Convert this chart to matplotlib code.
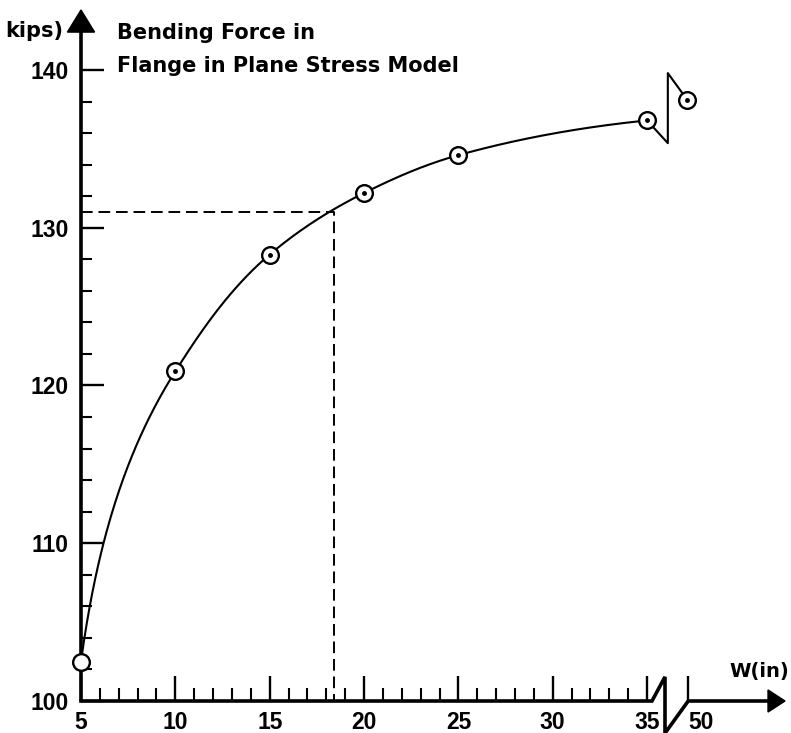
""" Bending force in flange, plane stress model """
import numpy as np
import matplotlib
matplotlib.use("Agg")
from matplotlib import pyplot as plt


# points
w_main = [5, 10, 15, 20, 25, 35]
force_main = [102.5, 120.9, 128.3, 132.2, 134.6, 136.8]
w_far = 50
force_far = 138.1

# the dashed read-off
w_read = 18.4
force_read = 131.0

x_major = [5, 10, 15, 20, 25, 30, 35]
x_tick_labels = ["5", "10", "15", "20", "25", "30", "35", "50"]
y_major = [100, 110, 120, 130, 140]

# 50 is drawn just past the axis break
pos_far = 37.18


# monotone cubic through the points, so the curve looks hand drawn smooth
def pchip(x, y, xs):
	x = np.asarray(x, float)
	y = np.asarray(y, float)
	h = np.diff(x)
	d = np.diff(y) / h
	m = np.zeros_like(y)
	for k in range(1, len(x) - 1):
		if d[k - 1] * d[k] <= 0:
			m[k] = 0
		else:
			w1 = 2 * h[k] + h[k - 1]
			w2 = h[k] + 2 * h[k - 1]
			m[k] = (w1 + w2) / (w1 / d[k - 1] + w2 / d[k])
	m[0] = ((2 * h[0] + h[1]) * d[0] - h[0] * d[1]) / (h[0] + h[1])
	m[-1] = ((2 * h[-1] + h[-2]) * d[-1] - h[-1] * d[-2]) / (h[-1] + h[-2])
	out = []
	for xv in xs:
		k = min(np.searchsorted(x, xv, side="right") - 1, len(x) - 2)
		t = (xv - x[k]) / h[k]
		h00 = 2 * t**3 - 3 * t**2 + 1
		h10 = t**3 - 2 * t**2 + t
		h01 = -2 * t**3 + 3 * t**2
		h11 = t**3 - t**2
		out.append(h00 * y[k] + h10 * h[k] * m[k] + h01 * y[k + 1] + h11 * h[k] * m[k + 1])
	return np.array(out)


fig = plt.figure(figsize=(7.91, 7.33), dpi=100)
ax = fig.add_axes([81 / 791, 32 / 733, 704 / 791, 691 / 733])
x_end = 42.31
y_end = 143.8
ax.set_xlim(5, x_end)
ax.set_ylim(100, y_end)
for s in ax.spines.values():
	s.set_visible(False)

num_font = dict(family="Liberation Sans", weight="bold", size=16.5)
txt_font = dict(family="DejaVu Sans", weight="bold", size=15)

# ticks
ax.set_xticks(x_major + [pos_far])
ax.set_xticklabels(x_tick_labels, fontdict=num_font)
ax.get_xticklabels()[-1].set_ha("left")
ax.get_xticklabels()[-1].set_x(pos_far - 0.2)
ax.set_xticks([v for v in range(6, 35) if v % 5 != 0], minor=True)
ax.set_yticks(y_major)
ax.set_yticklabels([str(v) for v in y_major], fontdict=num_font)
ax.set_yticks([v for v in range(102, 140, 2) if v % 10 != 0], minor=True)
ax.tick_params(axis="x", which="major", direction="in", length=18, width=1.7, pad=7)
ax.tick_params(axis="x", which="minor", direction="in", length=9.4, width=1.5)
ax.tick_params(axis="y", which="major", direction="in", length=16.5, width=1.7, pad=9)
ax.tick_params(axis="y", which="minor", direction="in", length=8, width=1.5)

# axes with arrows and the break
ax.plot([5, 5], [100, y_end - 1.4], color="k", lw=2.6, clip_on=False, solid_capstyle="butt")
ax.fill([5 - 0.72, 5 + 0.72, 5], [y_end - 1.4, y_end - 1.4, y_end], color="k", clip_on=False)
brk = 35.95
ax.plot([5, 35.26, brk, brk, pos_far, x_end - 0.9],
	[100, 100, 101.53, 97.96, 100, 100],
	color="k", lw=2.6, clip_on=False, solid_joinstyle="miter")
ax.fill([x_end - 0.9, x_end - 0.9, x_end], [99.3, 100.7, 100], color="k", clip_on=False)

# the curve, smoothed on a log scale so it rises steeply from the start
u_main = np.log(np.array(w_main) - 4.0)
xs = np.linspace(w_main[0], w_main[-1], 400)
ax.plot(xs, pchip(u_main, force_main, np.log(xs - 4.0)), color="k", lw=1.5, zorder=3)
cb = 36.1
ax.plot([w_main[-1], cb, cb, pos_far - 0.05], [force_main[-1], 135.36, 139.8, force_far],
	color="k", lw=1.5, zorder=3)

# dashed read-off lines
ax.plot([5, w_read, w_read], [force_read, force_read, 100], color="k", lw=1.4,
	dashes=(6, 3), zorder=2)

# markers, the first one has no dot
px = w_main + [pos_far - 0.05]
py = force_main + [force_far]
ax.plot(px, py, "o", ms=12, mfc="white", mec="k", mew=1.7, zorder=4, clip_on=False)
ax.plot(px[1:], py[1:], "o", ms=2.5, color="k", zorder=5)

# labels
fig.text(117 / 791, 1 - 39 / 733, "Bending Force in", ha="left", va="baseline", **txt_font)
fig.text(117 / 791, 1 - 72 / 733, "Flange in Plane Stress Model", ha="left", va="baseline", **txt_font)
fig.text(63 / 791, 1 - 37 / 733, "kips)", ha="right", va="baseline", **txt_font)
fig.text(789 / 791, 1 - 677 / 733, "W(in)", ha="right", va="baseline",
	family="DejaVu Sans", weight="bold", size=14)

fig.savefig("out.png", dpi=100)
